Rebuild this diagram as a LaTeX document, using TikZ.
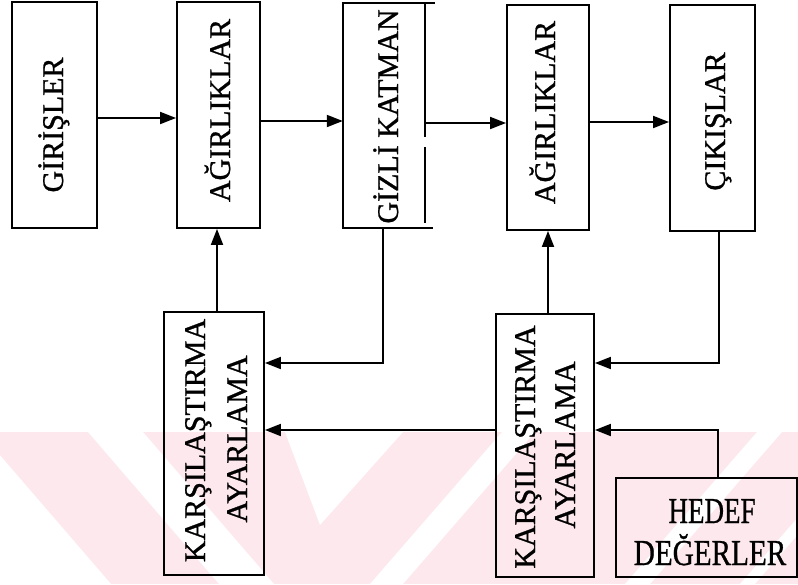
\documentclass[tikz,border=0pt]{standalone}
\usepackage{fontspec}
\setmainfont{Liberation Serif}
\newfontfamily\labfont{Liberation Serif}[FakeBold=0.9]
\usetikzlibrary{arrows.meta}
\definecolor{wmpink}{RGB}{253,232,237}

\begin{document}
\begin{tikzpicture}[x=1pt,y=-1pt,
  box/.style={draw, line width=1.9pt, inner sep=0pt, rectangle},
  vtext/.style={rotate=90, anchor=base, inner sep=0pt, font=\labfont\fontsize{30}{34}\selectfont},
  htext/.style={anchor=base, inner sep=0pt, font=\labfont\fontsize{36.5}{40}\selectfont},
  link/.style={line width=1.9pt},
  arr/.style={link, -{Triangle[length=16pt,width=12pt]}},
]
\useasboundingbox (0,0) rectangle (798,584);

% light striped band along the bottom
\begin{scope}
  \clip (0,432) rectangle (798,584);
  \fill[wmpink] (0,432) rectangle (798,584);
  \fill[white] (-20,432) -- (111,584) -- (-20,584) -- cycle;
  \fill[white] (88,432) -- (143,432) -- (274,584) -- (219,584) -- cycle;
  \fill[white] (285,432) -- (403,432) -- (320,525) -- cycle;
  \fill[white] (502,432) -- (535,432) -- (403,584) -- (370,584) -- cycle;
  \fill[white] (757,432) -- (782,432) -- (650,584) -- (625,584) -- cycle;
  \fill[white] (872,432) -- (887,432) -- (755,584) -- (740,584) -- cycle;
\end{scope}

% upper row
\node[box, minimum width=85pt, minimum height=226pt] (gir)   at (54.5,115) {};
\node[box, minimum width=83pt, minimum height=226pt] (agr1)  at (218.5,115) {};
\node[inner sep=0pt, minimum width=82pt, minimum height=225pt] (gizli) at (384,115.5) {};
\node[box, minimum width=82pt, minimum height=225pt] (agr2)  at (548,117.5) {};
\node[box, minimum width=85pt, minimum height=226pt] (cik)   at (712.5,118) {};

% hidden layer outline
\draw[link] ([xshift=-0.95pt]gizli.north west) -- ([xshift=10pt]gizli.north east);
\draw[link] (gizli.north west) -- (gizli.south west);
\draw[link] ([xshift=-0.95pt]gizli.south west) -- ([xshift=8pt]gizli.south east);
\draw[link] (gizli.north east) -- (gizli.east |- 0,137);
\draw[link] (gizli.east |- 0,147) -- ([yshift=5pt]gizli.south east);

% lower row
\node[box, minimum width=100pt, minimum height=263pt] (kar1)  at (214,443.5) {};
\node[box, minimum width=98pt,  minimum height=263pt] (kar2)  at (545,445.5) {};
\node[box, minimum width=181pt, minimum height=99pt]  (hedef) at (706.5,527.5) {};

% labels
\node[vtext] (t-gir)   at (63,125)    {GİRİŞLER};
\node[vtext] (t-agr1)  at (230,110.5) {AĞIRLIKLAR};
\node[vtext] (t-gizli) at (398,116.5) {GİZLİ KATMAN};
\node[vtext] (t-agr2)  at (555,112.5) {AĞIRLIKLAR};
\node[vtext] (t-cik)   at (725,121.5) {ÇIKIŞLAR};
\node[vtext] (t-kar1a) at (205,440.5) {KARŞILAŞTIRMA};
\node[vtext] (t-kar1b) at (247,439)   {AYARLAMA};
\node[vtext] (t-kar2a) at (535,447)   {KARŞILAŞTIRMA};
\node[vtext] (t-kar2b) at (575,445)   {AYARLAMA};
\node[htext] (t-hedef) at (712,523)   {\scalebox{0.74}[1]{HEDEF}};
\node[htext] (t-deg)   at (710,565)   {\scalebox{0.8}[1]{DEĞERLER}};

% forward connections
\draw[arr] ([yshift=-3pt]gir.east)    -- ([yshift=-3pt]agr1.west);
\draw[arr] ([yshift=-6pt]agr1.east)   -- ([yshift=-5.5pt]gizli.west);
\draw[arr] ([yshift=-7.5pt]gizli.east) -- ([yshift=-5.5pt]agr2.west);
\draw[arr] ([yshift=-4.5pt]agr2.east) -- ([yshift=-4pt]cik.west);

% feedback connections
\draw[arr] (kar1.north -| 217,0) -- (agr1.south -| 217,0);
\draw[arr] (gizli.south -| 383,0) |- (kar1.east |- 0,363);
\draw[arr] (kar2.west |- 0,430) -- (kar1.east |- 0,430);
\draw[arr] (kar2.north -| 548,0) -- (agr2.south -| 548,0);
\draw[arr] (cik.south -| 719,0) |- (kar2.east |- 0,363);
\draw[arr] (hedef.north -| 718,0) |- (kar2.east |- 0,430);
\end{tikzpicture}
\end{document}
